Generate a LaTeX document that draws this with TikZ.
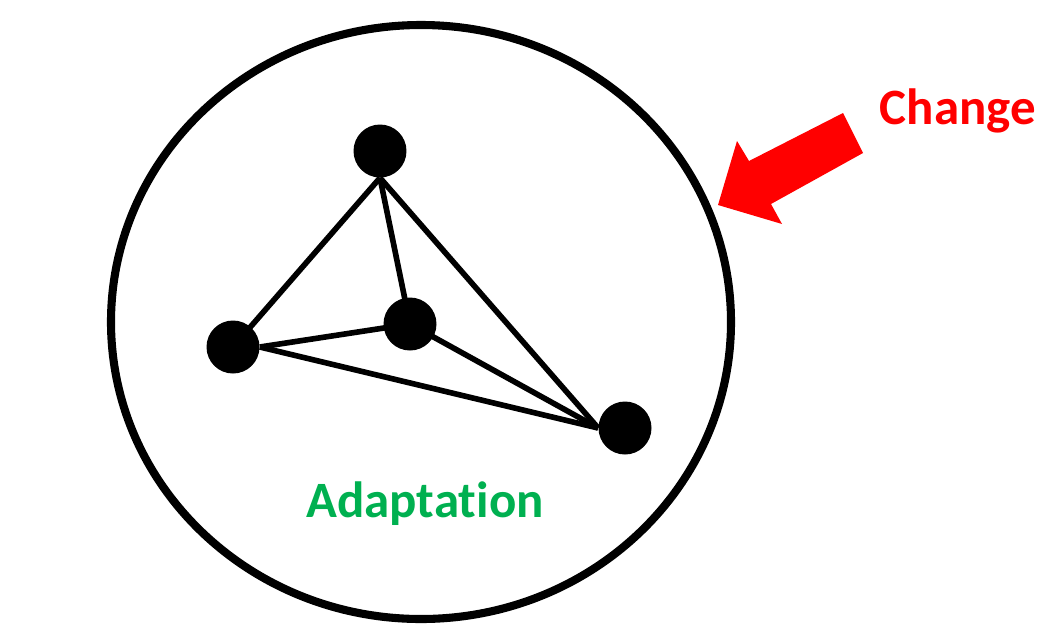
\documentclass[tikz,border=0pt]{standalone}
\usepackage{fontspec}
\setmainfont{Carlito}[Ligatures=NoCommon]
\usetikzlibrary{positioning}
\definecolor{officegreen}{RGB}{0,176,80}
\begin{document}
\begin{tikzpicture}[x=0.02cm,y=-0.02cm,every node/.style={font=\bfseries\fontsize{29}{33}\selectfont},dot/.style={circle,fill=black,inner sep=0pt,minimum size=1.06cm},link/.style={line width=3.2pt},ring/.style={line width=4.6pt}]
\useasboundingbox (0,0) rectangle (1058,640);
\draw[ring] (421,322) ellipse [x radius=310,y radius=297];
\node[dot] (top) at (380,151) {};\node[dot] (left) at (233,347) {};
\node[dot] (mid) at (410,324) {};\node[dot] (right) at (625,428) {};
\draw[link] (top.south)--(left.center);
\draw[link] (top.south)--(mid.center);
\draw[link] (top.south)--(right.west);
\draw[link] (left.east)--(mid.center);
\draw[link] (left.east)--(right.west);
\draw[link] (mid.center)--(right.west);
\node[officegreen,anchor=base] (adapt) at (425,517) {Adaptation};
\node[red,anchor=base] (change) at (958,124) {Change};
% block arrow
\fill[red] (718,205)--(737,141)--(749,161)--(843,113)--(863,153)--(771,204)--(782,224)--cycle;
\end{tikzpicture}
\end{document}
